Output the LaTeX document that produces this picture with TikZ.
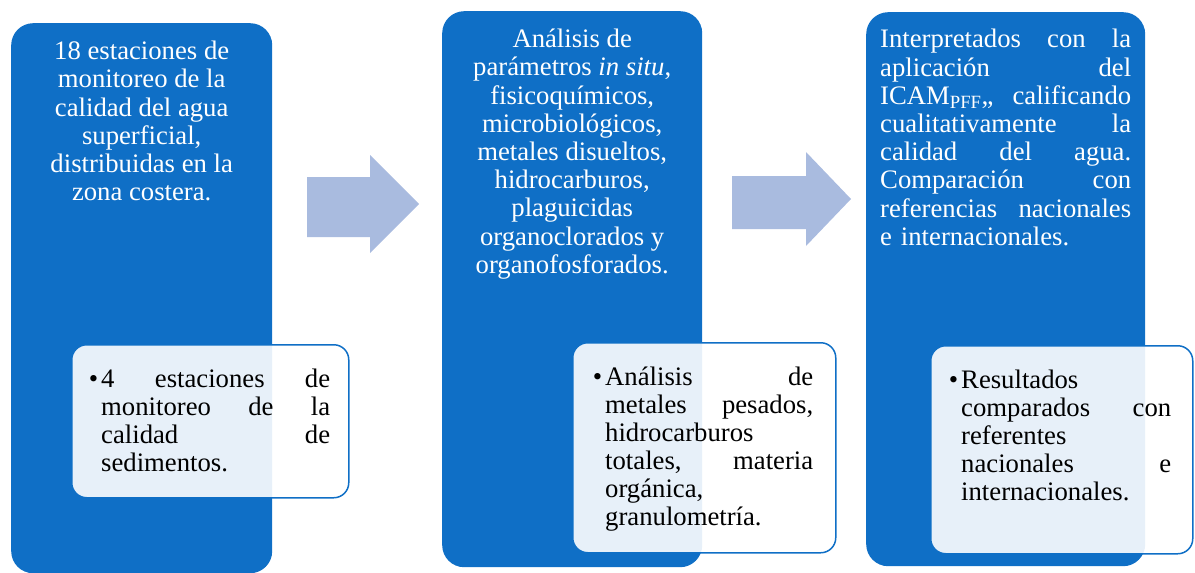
\documentclass[tikz,border=0pt]{standalone}
\usepackage{fontspec}
\setmainfont{Liberation Serif}
\usepackage{tikz}
\usetikzlibrary{positioning}

\definecolor{azul}{RGB}{15,111,198}
\definecolor{azulclaro}{RGB}{169,187,223}
\setlength{\parindent}{0pt}
\newcommand{\jline}[1]{\makebox[\hsize][s]{\spaceskip=\fontdimen2\font plus 1fil\relax #1}\\}
\newcommand{\vineta}{\llap{\textbullet\hspace{3pt}}}

\begin{document}
\begin{tikzpicture}[
    x=1pt, y=-1pt,
    bigbox/.style={rectangle, rounded corners=22pt, fill=azul, anchor=north west, inner sep=0pt},
    subbox/.style={rectangle, rounded corners=15pt, fill=white, fill opacity=0.9, draw=azul, line width=1.5pt, anchor=north west, inner sep=0pt},
    bigtext/.style={text=white, font=\fontsize{26.7}{28.2}\selectfont, inner sep=0pt, execute at begin node=\strut},
    subtext/.style={text=black, font=\fontsize{26.7}{28}\selectfont, inner sep=0pt, align=left, anchor=north west, execute at begin node=\strut},
    blockarrow/.style={fill=azulclaro}
]
\useasboundingbox (0,0) rectangle (1195,573);

% columna 1
\node[bigbox, minimum width=261pt, minimum height=550pt] (caja1) at (11,23) {};
\node[bigtext, align=center, anchor=north] (texto1) at ([yshift=-18pt]caja1.north)
    {18 estaciones de\\monitoreo de la\\calidad del agua\\superficial,\\distribuidas en la\\zona costera.};
\node[subbox, minimum width=277pt, minimum height=153pt] (sub1) at (71,344) {};
\node[subtext, text width=229pt] (subtexto1) at ([xshift=30pt,yshift=-24pt]sub1.north west)
    {\vineta\jline{4 estaciones de}\jline{monitoreo de la}\jline{calidad de}sedimentos.};

% flecha 1
\coordinate (f1) at (307,177);
\fill[blockarrow] (f1) -- ++(63,0) -- ++(0,-22) -- ++(49,49) -- ++(-49,49) -- ++(0,-16) -- ++(-63,0) -- cycle;

% columna 2
\node[bigbox, minimum width=260pt, minimum height=556pt] (caja2) at (442,11) {};
\node[bigtext, align=center, anchor=north] (texto2) at ([yshift=-18pt]caja2.north)
    {Análisis de\\parámetros \textit{in situ},\\fisicoquímicos,\\microbiológicos,\\metales disueltos,\\hidrocarburos,\\plaguicidas\\organoclorados y\\organofosforados.};
\node[subbox, minimum width=263pt, minimum height=210pt] (sub2) at (572,342) {};
\node[subtext, text width=208pt] (subtexto2) at ([xshift=33pt,yshift=-24pt]sub2.north west)
    {\vineta\jline{Análisis de}\jline{metales pesados,}hidrocarburos\\\jline{totales, materia}orgánica,\\granulometría.};

% flecha 2
\coordinate (f2) at (732,176);
\fill[blockarrow] (f2) -- ++(74,0) -- ++(0,-24) -- ++(45,47) -- ++(-45,47) -- ++(0,-17) -- ++(-74,0) -- cycle;

% columna 3
\node[bigbox, minimum width=279pt, minimum height=554pt] (caja3) at (866,12) {};
\node[bigtext, align=left, anchor=north west, text width=251pt] (texto3) at ([xshift=14pt,yshift=-16pt]caja3.north west)
    {\jline{Interpretados con la}\jline{aplicación del}\jline{ICAM\textsubscript{PFF},, calificando}\jline{cualitativamente la}\jline{calidad del agua.}\jline{Comparación con}\jline{referencias nacionales}e internacionales.};
\node[subbox, minimum width=262pt, minimum height=208pt] (sub3) at (930,345) {};
\node[subtext, text width=210pt] (subtexto3) at ([xshift=31pt,yshift=-24pt]sub3.north west)
    {\vineta Resultados\\\jline{comparados con}referentes\\\jline{nacionales e}internacionales.};
\end{tikzpicture}
\end{document}
